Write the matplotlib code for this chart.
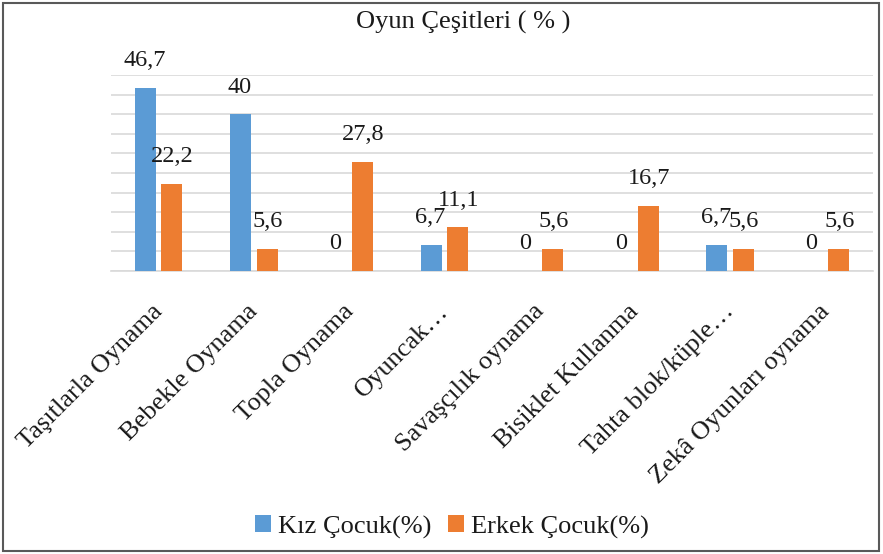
import numpy as np
import matplotlib.pyplot as plt
from matplotlib.patches import Rectangle
from matplotlib.transforms import ScaledTranslation

plt.rcParams['font.family'] = ['Liberation Serif', 'DejaVu Serif']

# veriler
kategoriler = ['Taşıtlarla Oynama', 'Bebekle Oynama', 'Topla Oynama', 'Oyuncak…',
               'Savaşçılık oynama', 'Bisiklet Kullanma', 'Tahta blok/küple…',
               'Zekâ Oyunları oynama']
kiz = [46.7, 40, 0, 6.7, 0, 0, 6.7, 0]
erkek = [22.2, 5.6, 27.8, 11.1, 5.6, 16.7, 5.6, 5.6]
etiket_kiz = ['46,7', '40', '0', '6,7', '0', '0', '6,7', '0']
etiket_erkek = ['22,2', '5,6', '27,8', '11,1', '5,6', '16,7', '5,6', '5,6']

mavi = '#5B9BD5'
turuncu = '#ED7D31'
text_c = '#1a1a1a'

W, H = 883, 554
fig = plt.figure(figsize=(W / 100, H / 100), dpi=100)
ax = fig.add_axes([111 / W, (H - 271) / H, (873 - 111) / W, (271 - 75) / H])

x = np.arange(len(kategoriler))
sirina = 0.22
ax.bar(x - 0.14, kiz, sirina, color=mavi, label='Kız Çocuk(%)', zorder=3)
ax.bar(x + 0.14, erkek, sirina, color=turuncu, label='Erkek Çocuk(%)', zorder=3)

# popisky hodnot
for i in range(len(x)):
    ax.annotate(etiket_kiz[i], (x[i] - 0.14, kiz[i]), xytext=(-0.5, 12),
                textcoords='offset points', ha='center', va='bottom', fontsize=17.5, color=text_c)
    ax.annotate(etiket_erkek[i], (x[i] + 0.14, erkek[i]), xytext=(0.5, 12),
                textcoords='offset points', ha='center', va='bottom', fontsize=17.5, color=text_c)

ax.set_xlim(-0.5, len(x) - 0.5)
ax.set_ylim(0, 50)
ax.set_yticks(np.arange(0, 51, 5))
ax.set_yticklabels([])
ax.tick_params(axis='y', length=0)
ax.tick_params(axis='x', length=0, pad=21)
ax.grid(axis='y', color='#D9D9D9', linewidth=1.2, zorder=0)
for s in ['top', 'right', 'left']:
    ax.spines[s].set_visible(False)
ax.spines['bottom'].set_color('#D9D9D9')
ax.spines['bottom'].set_linewidth(1.2)

ax.set_xticks(x)
ax.set_xticklabels(kategoriler, rotation=45, ha='right', va='top',
                   rotation_mode='anchor', fontsize=19, color=text_c)
posun = ScaledTranslation(-0.07, 0, fig.dpi_scale_trans)
for lbl in ax.get_xticklabels():
    lbl.set_transform(lbl.get_transform() + posun)

fig.text(463 / W, 1 - 22 / H, 'Oyun Çeşitleri ( % )', ha='center', va='center',
         fontsize=19, color=text_c)

fig.legend(loc='center', bbox_to_anchor=(452 / W, 1 - 527 / H), ncol=2, frameon=False,
           fontsize=19, handlelength=0.6, handleheight=0.6, handletextpad=0.3,
           columnspacing=0.6, labelcolor=text_c)

fig.patches.append(Rectangle((3 / W, 3 / H), (W - 7) / W, (H - 6) / H, transform=fig.transFigure,
                             fill=False, edgecolor='#595959', linewidth=1.5))

fig.savefig('out.png', dpi=100)
